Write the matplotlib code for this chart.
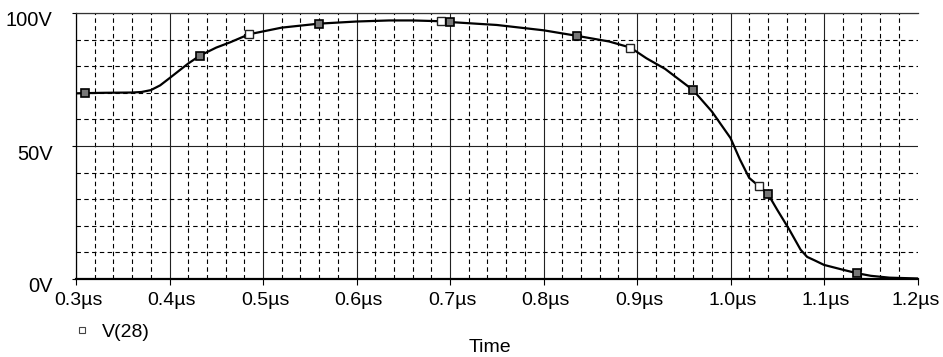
import numpy as np
import matplotlib.pyplot as plt
from matplotlib.ticker import MultipleLocator
from matplotlib.lines import Line2D
from matplotlib.transforms import ScaledTranslation

plt.rcParams['font.family'] = ['Liberation Sans', 'DejaVu Sans']

# --- DONNÉES ---
t_us = [0.30, 0.33, 0.36, 0.37, 0.38, 0.39, 0.40, 0.42, 0.4326, 0.45, 0.465,
        0.485, 0.52, 0.56, 0.60, 0.635, 0.66, 0.69, 0.70, 0.75, 0.80, 0.836,
        0.87, 0.893, 0.91, 0.93, 0.96, 0.98, 1.00, 1.01, 1.02, 1.03, 1.04,
        1.05, 1.063, 1.075, 1.082, 1.09, 1.10, 1.12, 1.135, 1.15, 1.17, 1.20]
v28 = [69.8, 70.0, 70.1, 70.3, 71.0, 72.8, 75.5, 81.0, 84.0, 87.0, 89.0,
       92.0, 94.5, 96.0, 96.8, 97.2, 97.2, 96.9, 96.6, 95.5, 93.5, 91.4,
       89.3, 87.0, 83.0, 79.0, 71.0, 63.0, 53.0, 45.0, 38.0, 35.0, 32.0,
       26.0, 18.5, 11.0, 8.3, 7.0, 5.3, 3.5, 2.2, 1.2, 0.5, 0.2]

# marqueurs PSpice (creux / pleins)
mk_hollow_t = [0.485, 0.69, 0.893, 1.03]
mk_hollow_v = [92.0, 96.9, 87.0, 35.0]
mk_dark_t = [0.31, 0.4326, 0.56, 0.70, 0.836, 0.96, 1.04, 1.135]
mk_dark_v = [69.8, 84.0, 96.0, 96.6, 91.4, 71.0, 32.0, 2.2]

x_ticks = [0.3, 0.4, 0.5, 0.6, 0.7, 0.8, 0.9, 1.0, 1.1, 1.2]
x_labels = ['0.3µs', '0.4µs', '0.5µs', '0.6µs', '0.7µs', '0.8µs', '0.9µs',
            '1.0µs', '1.1µs', '1.2µs']
y_ticks = [0, 50, 100]
y_labels = ['0V', '50V', '100V']

# --- FIGURE ---
fig = plt.figure(figsize=(9.43, 3.57), dpi=100)
ax = fig.add_axes([76 / 943, 1 - 279 / 357, 841.5 / 943, 266 / 357])

ax.plot(t_us, v28, color='black', linewidth=1.6, zorder=4)
ax.plot(mk_hollow_t, mk_hollow_v, ls='none', marker='s', ms=5.5, mfc='white',
        mec='#222222', mew=1.0, zorder=5)
ax.plot(mk_dark_t, mk_dark_v, ls='none', marker='s', ms=5.5, mfc='#777777',
        mec='black', mew=1.2, zorder=5)

ax.set_xlim(0.3, 1.2)
ax.set_ylim(0, 100)
ax.set_xticks(x_ticks, x_labels, fontsize=14)
ax.set_yticks(y_ticks, y_labels, fontsize=14.5)
ax.xaxis.set_minor_locator(MultipleLocator(0.02))
ax.yaxis.set_minor_locator(MultipleLocator(10))

ax.tick_params(axis='x', which='major', length=4, width=0.8, pad=5.5)
ax.tick_params(axis='y', which='major', length=3, width=0.8, pad=14)
ax.tick_params(which='minor', length=0)

# grille : traits pleins (majeure), tirets (mineure)
ax.grid(True, which='major', color='#222222', linewidth=0.8, linestyle='-')
ax.grid(True, which='minor', color='black', linewidth=0.8, linestyle=(0, (4, 3)))
ax.xaxis.get_gridlines()[-1].set_visible(False)
ax.set_axisbelow(True)

ax.spines['right'].set_visible(False)
ax.spines['top'].set_linewidth(0.9)
ax.spines['top'].set_color('#333333')
ax.spines['left'].set_linewidth(0.9)
ax.spines['bottom'].set_linewidth(1.6)

xlabs = ax.get_xticklabels()
for lab in xlabs[:-1]:
    lab.set_transform(lab.get_transform() + ScaledTranslation(0.02, 0, fig.dpi_scale_trans))
xlabs[-1].set_transform(xlabs[-1].get_transform() + ScaledTranslation(-0.02, 0, fig.dpi_scale_trans))
for lab in ax.get_yticklabels():
    lab.set_transform(lab.get_transform() + ScaledTranslation(0, -0.06, fig.dpi_scale_trans))

handle = Line2D([], [], ls='none', marker='s', ms=5, mfc='white', mec='#444444', mew=0.8)
ax.legend([handle], ['V(28)'], loc='center left', bbox_to_anchor=(72.5 / 943, 1 - 332 / 357),
          bbox_transform=fig.transFigure, frameon=False, fontsize=14, borderpad=0,
          borderaxespad=0, handlelength=1.0, handletextpad=0.5)

fig.text(490 / 943, 1 - 348 / 357, 'Time', ha='center', va='center', fontsize=14)

fig.savefig('out.png', dpi=100)
